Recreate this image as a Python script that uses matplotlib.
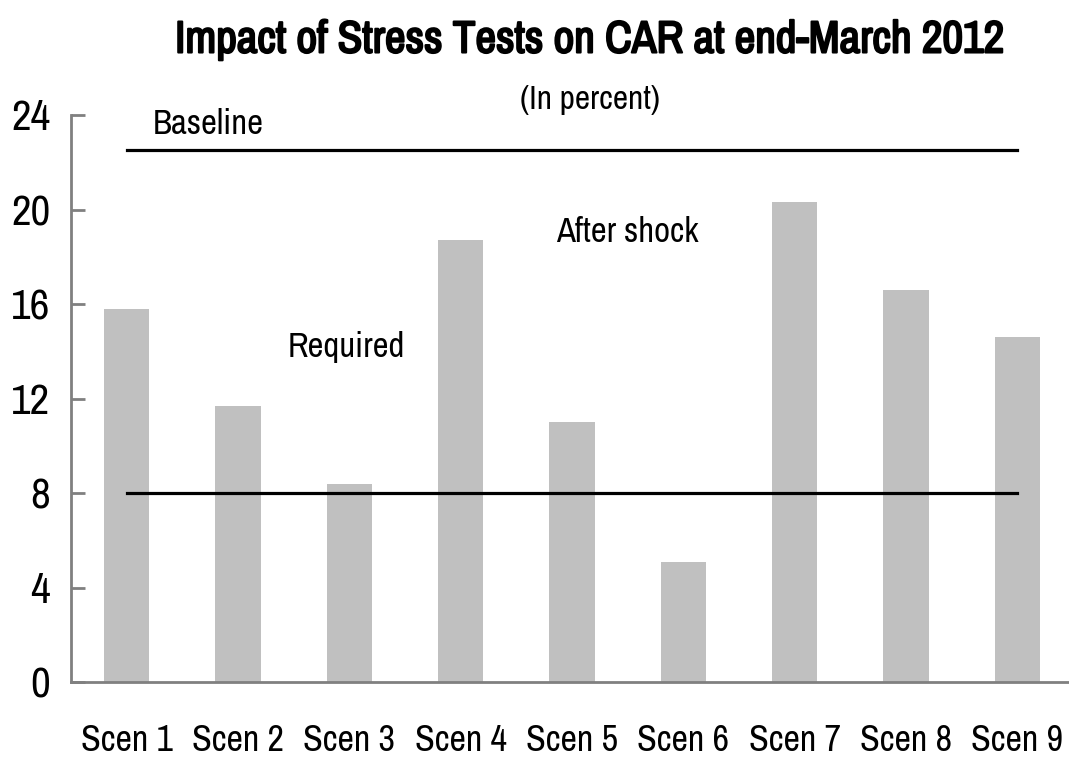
import numpy as np
import matplotlib.pyplot as plt
import matplotlib.patheffects as pe

# CAR after shock, by scenario (percent)
scenarios = ['Scen 1', 'Scen 2', 'Scen 3', 'Scen 4', 'Scen 5',
             'Scen 6', 'Scen 7', 'Scen 8', 'Scen 9']
after_shock = [15.8, 11.7, 8.4, 18.7, 11.0, 5.1, 20.3, 16.6, 14.6]
baseline = 22.5
required = 8.0
yticks = [0, 4, 8, 12, 16, 20, 24]

plt.rcParams['font.family'] = ['Archivo Narrow', 'PT Sans Narrow',
                               'Roboto Condensed', 'DejaVu Sans']

fig = plt.figure(figsize=(10.69, 7.64), dpi=100)
ax = fig.add_axes([71 / 1069, 1 - 682 / 764, 1002 / 1069, 567 / 764])

x = np.arange(len(scenarios))
ax.bar(x, after_shock, width=0.41, color='#c0c0c0')
ax.plot([x[0], x[-1]], [baseline, baseline], color='black', lw=2.3)
ax.plot([x[0], x[-1]], [required, required], color='black', lw=2.3)

ax.text(0.23, 23.6, 'Baseline', fontsize=25, va='center', ha='left')
ax.text(4.5, 19.05, 'After shock', fontsize=25, va='center', ha='center')
ax.text(1.97, 14.2, 'Required', fontsize=25, va='center', ha='center')

ax.set_xlim(-0.5, len(scenarios) - 0.5)
ax.set_ylim(0, 24)
ax.set_yticks(yticks)
ax.set_xticks(x)
ax.set_xticklabels(scenarios)

for s in ['top', 'right']:
    ax.spines[s].set_visible(False)
for s in ['left', 'bottom']:
    ax.spines[s].set_color('#808080')
    ax.spines[s].set_linewidth(2)
ax.tick_params(axis='y', direction='in', length=10, width=2, color='#808080',
               labelsize=31, pad=15)
ax.tick_params(axis='x', length=0, labelsize=26, pad=30)

# the narrow face has no bold weight, so thicken the title with a stroke
fig.text(0.552, 0.947, 'Impact of Stress Tests on CAR at end-March 2012',
         fontsize=32.5, ha='center', va='center',
         path_effects=[pe.withStroke(linewidth=1.5, foreground='black')])
fig.text(0.552, 0.869, '(In percent)', fontsize=24, ha='center', va='center')

fig.savefig('out.png', dpi=100)
